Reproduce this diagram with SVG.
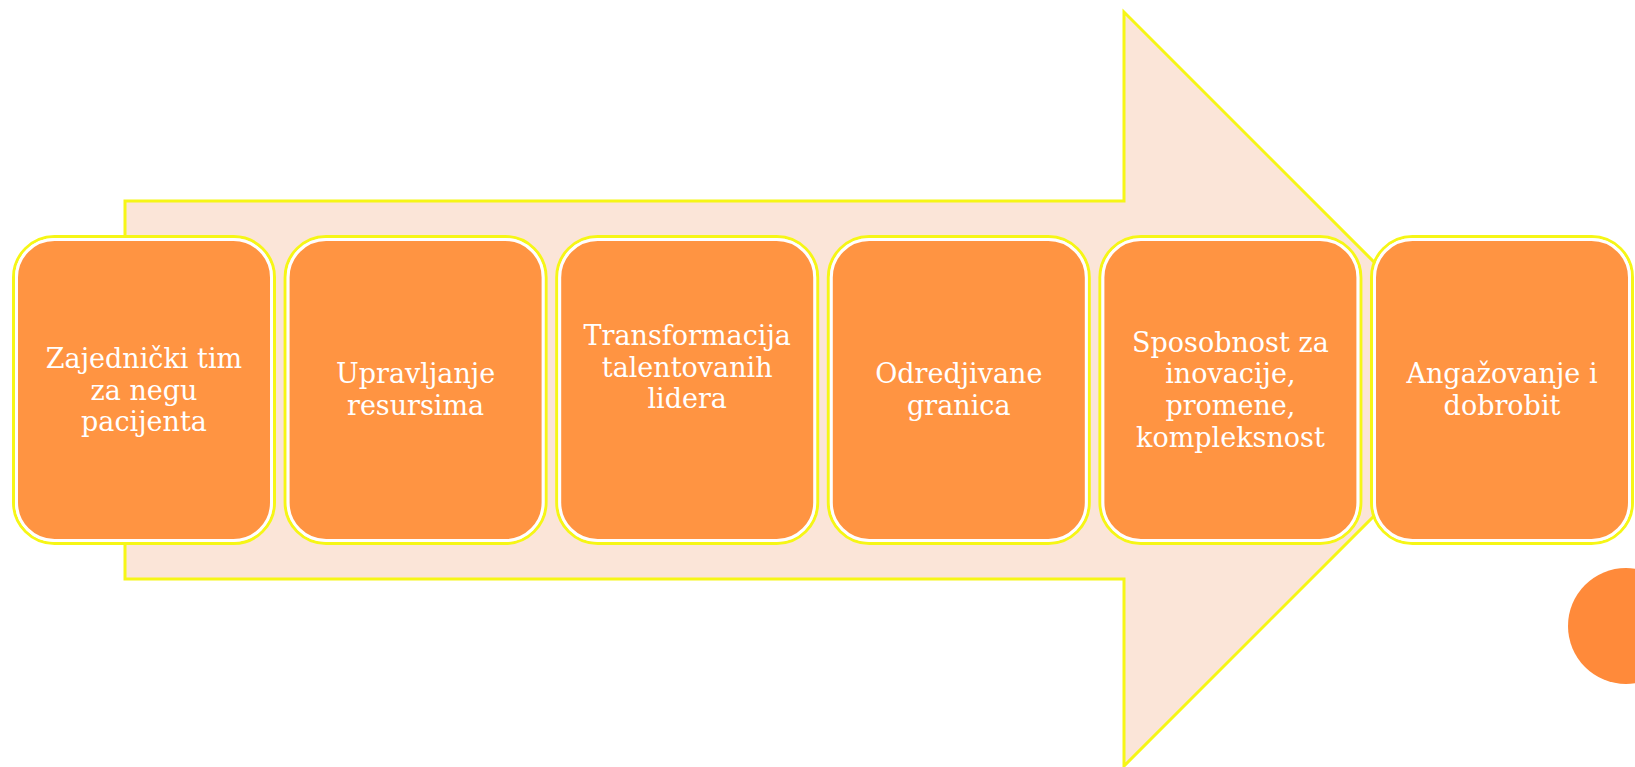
<svg xmlns="http://www.w3.org/2000/svg" width="1635" height="767" viewBox="0 0 1635 767">
<style>
.arrow{fill:#FBE5D8;stroke:#F6F616;stroke-width:3;stroke-linejoin:miter}
.outer{fill:none;stroke:#F6F616;stroke-width:3}
.inner{fill:#FF9442;stroke:#FFFFFF;stroke-width:3}
.lbl{font-family:"DejaVu Serif","Liberation Serif",serif;font-size:27px;fill:#FFFFFF;text-anchor:middle}
</style>
<rect width="1635" height="767" fill="#FFFFFF"/>
<g id="connectors">
<polygon class="arrow" points="125,201 1124,201 1124,12 1501,389 1124,766 1124,579 125,579"/>
</g>
<g id="node1">
<rect class="outer" x="13.5" y="236.5" width="261" height="307" rx="41"/>
<rect class="inner" x="16.5" y="239.5" width="255" height="301" rx="38"/>
<text class="lbl"><tspan x="144" y="368">Zajednički tim</tspan><tspan x="144" y="400">za negu</tspan><tspan x="144" y="431">pacijenta</tspan></text>
</g>
<g id="node2">
<rect class="outer" x="285.1" y="236.5" width="261" height="307" rx="41"/>
<rect class="inner" x="288.1" y="239.5" width="255" height="301" rx="38"/>
<text class="lbl"><tspan x="415.6" y="383">Upravljanje</tspan><tspan x="415.6" y="415">resursima</tspan></text>
</g>
<g id="node3">
<rect class="outer" x="556.7" y="236.5" width="261" height="307" rx="41"/>
<rect class="inner" x="559.7" y="239.5" width="255" height="301" rx="38"/>
<text class="lbl"><tspan x="687.2" y="345">Transformacija</tspan><tspan x="687.2" y="377">talentovanih</tspan><tspan x="687.2" y="408">lidera</tspan></text>
</g>
<g id="node4">
<rect class="outer" x="828.3" y="236.5" width="261" height="307" rx="41"/>
<rect class="inner" x="831.3" y="239.5" width="255" height="301" rx="38"/>
<text class="lbl"><tspan x="958.8" y="383">Odredjivane</tspan><tspan x="958.8" y="415">granica</tspan></text>
</g>
<g id="node5">
<rect class="outer" x="1099.9" y="236.5" width="261" height="307" rx="41"/>
<rect class="inner" x="1102.9" y="239.5" width="255" height="301" rx="38"/>
<text class="lbl"><tspan x="1230.4" y="352">Sposobnost za</tspan><tspan x="1230.4" y="383">inovacije,</tspan><tspan x="1230.4" y="415">promene,</tspan><tspan x="1230.4" y="447">kompleksnost</tspan></text>
</g>
<g id="node6">
<rect class="outer" x="1371.5" y="236.5" width="261" height="307" rx="41"/>
<rect class="inner" x="1374.5" y="239.5" width="255" height="301" rx="38"/>
<text class="lbl"><tspan x="1502" y="383">Angažovanje i</tspan><tspan x="1502" y="415">dobrobit</tspan></text>
</g>
<circle id="dot" cx="1626" cy="626" r="58" fill="#FF8A3A"/>
</svg>
